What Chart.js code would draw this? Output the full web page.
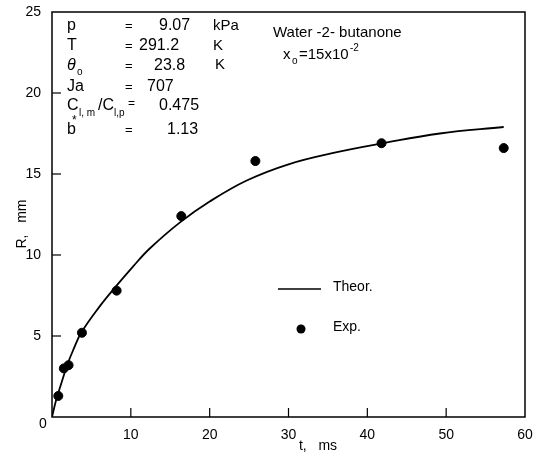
<!DOCTYPE html>
<html>
<head>
<meta charset="utf-8">
<script src="https://cdn.jsdelivr.net/npm/chart.js@4/dist/chart.umd.min.js"></script>
<style>
  html, body { margin: 0; padding: 0; background: #fff; }
  #wrap { width: 542px; height: 455px; }
</style>
</head>
<body>
<div id="wrap"><canvas id="myChart" width="542" height="455"></canvas></div>
<script>
// Theoretical curve, R (mm) vs t (ms)
const theorT = [0, 0.5, 1, 2, 2.75, 3.7, 6, 8, 10.3, 12.4, 16.2, 20, 24.7, 30, 35.7, 42, 49.2, 57.3];
const theorR = [0, 1.0, 1.8, 3.3, 4.2, 5.2, 6.8, 8.0, 9.3, 10.4, 12.0, 13.3, 14.6, 15.6, 16.3, 16.9, 17.5, 17.9];

// Experimental points
const expT = [0.8, 1.5, 2.1, 3.8, 8.2, 16.4, 25.8, 41.8, 57.3];
const expR = [1.3, 3.0, 3.2, 5.2, 7.8, 12.4, 15.8, 16.9, 16.6];

// tick labels
const xTicks = [0, 10, 20, 30, 40, 50, 60];
const yTicks = [0, 5, 10, 15, 20, 25];

const FONT = "'Liberation Sans', 'DejaVu Sans', sans-serif";

const toPoints = (xs, ys) => xs.map((x, i) => ({ x: x, y: ys[i] }));

// inner tick marks + box around the plot
const frame = {
  id: "frame",
  afterDraw(chart) {
    const c = chart.ctx;
    const a = chart.chartArea;
    const xs = chart.scales.x, ys = chart.scales.y;
    c.save();
    c.strokeStyle = "#000";
    c.lineWidth = 1.5;
    c.strokeRect(a.left, a.top, a.right - a.left, a.bottom - a.top);
    c.lineWidth = 1.2;
    xTicks.forEach((v) => {
      if (v === 0 || v === 60) return;
      const px = xs.getPixelForValue(v);
      c.beginPath();
      c.moveTo(px, a.bottom);
      c.lineTo(px, a.bottom - 9);
      c.stroke();
    });
    yTicks.forEach((v) => {
      if (v === 0 || v === 25) return;
      const py = ys.getPixelForValue(v);
      c.beginPath();
      c.moveTo(a.left, py);
      c.lineTo(a.left + 9, py);
      c.stroke();
    });
    c.restore();
  },
};

// texts: parameter block, system name, legend, axis titles
function txt(c, s, x, y, size, align) {
  c.font = size + "px " + FONT;
  c.textAlign = align || "left";
  c.fillText(s, x, y);
}

const notes = {
  id: "notes",
  afterDraw(chart) {
    const c = chart.ctx;
    c.save();
    c.fillStyle = "#000";
    c.textBaseline = "middle";

    // parameter block
    const lx = 67, ex = 125;
    txt(c, "p", lx, 26, 16);   txt(c, "=", ex, 26, 13); txt(c, "9.07", 159, 26, 16);  txt(c, "kPa", 213, 26, 15);
    txt(c, "T", lx, 46, 16);   txt(c, "=", ex, 46, 13); txt(c, "291.2", 139, 46, 16); txt(c, "K", 213, 46, 15);
    c.font = "italic 16px " + FONT; c.textAlign = "left"; c.fillText("θ", lx, 66);
    txt(c, "o", lx + 10, 72, 10);
    txt(c, "=", ex, 66, 13); txt(c, "23.8", 154, 66, 16); txt(c, "K", 215, 65, 15);
    txt(c, "Ja", lx, 87, 16);  txt(c, "=", ex, 87, 13); txt(c, "707", 147, 87, 16);
    txt(c, "C", lx, 106, 16);  txt(c, "l, m", lx + 12, 113, 10); txt(c, "*", lx + 5, 121, 12);
    txt(c, "/C", lx + 31, 106, 16); txt(c, "l,p", lx + 47, 113, 10);
    txt(c, "=", ex + 3, 104, 12); txt(c, "0.475", 159, 106, 16);
    txt(c, "b", lx, 130, 16);  txt(c, "=", ex, 130, 13); txt(c, "1.13", 167, 130, 16);

    // system
    txt(c, "Water -2- butanone", 273, 33, 15);
    txt(c, "x", 283, 55, 15);
    txt(c, "o", 292, 61, 10);
    txt(c, "=15x10", 299, 55, 15);
    txt(c, "-2", 350, 48, 10);

    // legend
    c.strokeStyle = "#000";
    c.lineWidth = 1.6;
    c.beginPath();
    c.moveTo(278, 289);
    c.lineTo(321, 289);
    c.stroke();
    txt(c, "Theor.", 333, 287, 14);
    c.beginPath();
    c.arc(301, 329, 4.5, 0, Math.PI * 2);
    c.fill();
    txt(c, "Exp.", 333, 327, 14);

    // axis titles and origin label
    txt(c, "t,   ms", 318, 446, 14, "center");
    txt(c, "0", 43, 424, 14, "center");
    c.translate(22, 224);
    c.rotate(-Math.PI / 2);
    txt(c, "R,   mm", 0, 0, 14, "center");
    c.restore();
  },
};

const ctx = document.getElementById("myChart").getContext("2d");

const myChart = new Chart(ctx, {
  type: "scatter",
  data: {
    datasets: [
      {
        label: "Theor.",
        data: toPoints(theorT, theorR),
        showLine: true,
        borderColor: "#000",
        borderWidth: 1.8,
        pointRadius: 0,
        tension: 0.4,
      },
      {
        label: "Exp.",
        data: toPoints(expT, expR),
        backgroundColor: "#000",
        borderColor: "#000",
        pointRadius: 4.5,
      },
    ],
  },
  options: {
    responsive: false,
    animation: false,
    events: [],
    layout: { padding: { left: 0, right: 17, top: 12, bottom: 0 } },
    plugins: {
      legend: { display: false },
      tooltip: { enabled: false },
    },
    scales: {
      x: {
        type: "linear",
        min: 0,
        max: 60,
        afterBuildTicks: (s) => { s.ticks = xTicks.map((v) => ({ value: v })); },
        afterFit: (s) => { s.height = 38; },
        grid: { display: false },
        border: { display: false },
        ticks: {
          color: "#000",
          padding: 2,
          font: { family: FONT, size: 14 },
          callback: (v) => (v === 0 ? "" : v),
        },
      },
      y: {
        min: 0,
        max: 25,
        afterBuildTicks: (s) => { s.ticks = yTicks.map((v) => ({ value: v })); },
        afterFit: (s) => { s.width = 52; },
        grid: { display: false },
        border: { display: false },
        ticks: {
          color: "#000",
          padding: 3,
          font: { family: FONT, size: 14 },
          callback: (v) => (v === 0 ? "" : v),
        },
      },
    },
  },
  plugins: [frame, notes],
});
</script>
</body>
</html>
